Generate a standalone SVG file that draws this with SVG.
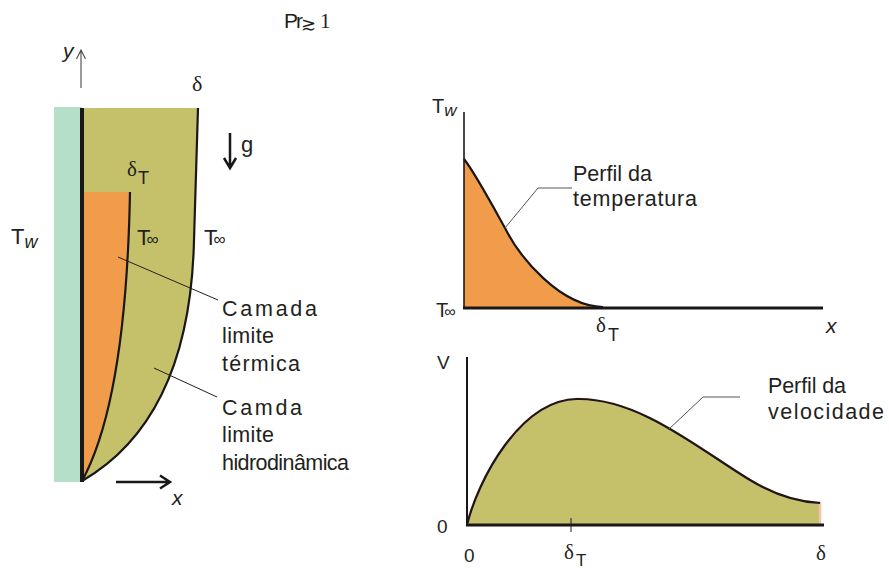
<svg xmlns="http://www.w3.org/2000/svg" width="889" height="571" viewBox="0 0 889 571">
<defs>
<style>
.s{font-family:"Liberation Sans",Arial,sans-serif;fill:#231f20}
.r{font-family:"Liberation Serif","Times New Roman",serif;fill:#231f20}
.lbl{font-size:21.5px}
.lead{stroke:#231f20;stroke-width:1;fill:none}
.leadg{stroke:#555;stroke-width:1;fill:none}
.curve{stroke:#1a1718;stroke-width:2.2;fill:none}
.axis{stroke:#1a1718;fill:none}
</style>
</defs>
<rect width="889" height="571" fill="#fff"/>

<!-- title -->
<g id="title">
<text class="s" x="284" y="28" font-size="21" letter-spacing="-2">Pr</text>
<text class="r" x="301" y="30" font-size="18">≳</text>
<text class="r" x="320" y="28" font-size="21">1</text>
</g>

<!-- left plate with boundary layers -->
<g id="plate">
<rect x="54" y="107" width="28" height="375" fill="#b6dfca"/>
</g>
<g id="hydro-layer">
<path d="M84,108 L198,108 L194,240 C192,330 170,430 82,481 Z" fill="#c4c16a"/>
<path d="M198,108 L194,240 C192,330 170,430 82,481" class="curve"/>
</g>
<g id="thermal-layer">
<path d="M84,192 L130,192 C128,300 118,415 82,481 L84,481 Z" fill="#f09c4b"/>
<path d="M130,192 C128,300 118,415 82,481" class="curve"/>
</g>
<g id="wall">
<line x1="82" y1="108" x2="82" y2="482" stroke="#1a1718" stroke-width="4"/>
</g>

<!-- left labels -->
<g id="left-labels">
<text class="s" x="63" y="58" font-size="21" font-style="italic">y</text>
<text class="r" x="192" y="91" font-size="22">δ</text>
<text class="s" x="241" y="152" font-size="22">g</text>
<text class="r" x="127" y="176" font-size="21">δ</text>
<text class="s" x="138" y="184" font-size="18">T</text>
<text class="s" x="11" y="244" font-size="22">T<tspan font-size="18" font-style="italic" dy="4">w</tspan></text>
<text class="s" x="137" y="245" font-size="22" letter-spacing="-4">T<tspan font-size="17">∞</tspan></text>
<text class="s" x="204" y="245" font-size="22" letter-spacing="-4">T<tspan font-size="17">∞</tspan></text>
<text class="s" x="172" y="505" font-size="21" font-style="italic">x</text>
<text class="s lbl" x="222" y="316" textLength="95" lengthAdjust="spacing">Camada</text>
<text class="s lbl" x="222" y="343" textLength="52" lengthAdjust="spacing">limite</text>
<text class="s lbl" x="222" y="371" textLength="78" lengthAdjust="spacing">térmica</text>
<text class="s lbl" x="222" y="415" textLength="80" lengthAdjust="spacing">Camda</text>
<text class="s lbl" x="222" y="442" textLength="52" lengthAdjust="spacing">limite</text>
<text class="s lbl" x="222" y="470" textLength="127" lengthAdjust="spacing">hidrodinâmica</text>
</g>

<!-- temperature profile chart -->
<g id="chart-temperature">
<path d="M464,159 C475,173 495,210 505,228 C520,258 560,306 603,307 L603,308 L464,308 Z" fill="#f09c4b"/>
<line x1="464" y1="112" x2="464" y2="308" class="axis" stroke-width="1.6"/>
<path d="M464,159 C475,173 495,210 505,228 C520,258 560,306 603,307" class="curve"/>
<line x1="463" y1="308" x2="823" y2="308" class="axis" stroke-width="3"/>
<text class="s" x="432" y="113" font-size="20">T<tspan font-size="17" font-style="italic" dy="3">w</tspan></text>
<text class="s" x="436" y="317" font-size="20" letter-spacing="-4">T<tspan font-size="16">∞</tspan></text>
<text class="r" x="596" y="332" font-size="21">δ</text>
<text class="s" x="608" y="341" font-size="18">T</text>
<text class="s" x="826" y="333" font-size="21" font-style="italic">x</text>
<text class="s lbl" x="573" y="181" textLength="79" lengthAdjust="spacing">Perfil da</text>
<text class="s lbl" x="573" y="206" textLength="124" lengthAdjust="spacing">temperatura</text>
</g>

<!-- velocity profile chart -->
<g id="chart-velocity">
<path d="M467,525 C478,480 520,400 577,399 C640,398 700,450 750,480 C775,495 800,502 820,503 L820,525 Z" fill="#c4c16a" stroke="#f3c2a8" stroke-width="2.5"/>
<path d="M467,525 C478,480 520,400 577,399 C640,398 700,450 750,480 C775,495 800,502 820,503" class="curve"/>
<line x1="467" y1="357" x2="467" y2="525" class="axis" stroke-width="2"/>
<line x1="466" y1="525" x2="824" y2="525" class="axis" stroke-width="3"/>
<line x1="571" y1="518" x2="571" y2="532" stroke="#231f20" stroke-width="1"/>
<text class="s" x="437" y="369" font-size="19">V</text>
<text class="s" x="437" y="533" font-size="19">0</text>
<text class="s" x="464" y="562" font-size="19">0</text>
<text class="r" x="564" y="559" font-size="21">δ</text>
<text class="s" x="576" y="566" font-size="17">T</text>
<text class="r" x="816" y="560" font-size="21">δ</text>
<text class="s lbl" x="768" y="393" textLength="78" lengthAdjust="spacing">Perfil da</text>
<text class="s lbl" x="768" y="419" textLength="116" lengthAdjust="spacing">velocidade</text>
</g>

<!-- connectors: leaders and arrows -->
<g id="connectors">
<path d="M118,257 L218,300" class="lead"/>
<path d="M154,368 L217,397" class="lead"/>
<path d="M505,228 L538,188 L572,188" class="leadg"/>
<path d="M668,430 L703,397 L740,397" class="leadg"/>
<path d="M81,88 L81,50 M76.5,59 L81,50 L85.5,59" stroke="#4a4a4a" stroke-width="1.1" fill="none"/>
<path d="M230,133 L230,168 M224,158 L230,168 L236,158" stroke="#1a1718" stroke-width="2.5" fill="none"/>
<path d="M116,482 L170,482 M160,475.5 L170,482 L160,488.5" stroke="#1a1718" stroke-width="2.5" fill="none"/>
</g>
</svg>
